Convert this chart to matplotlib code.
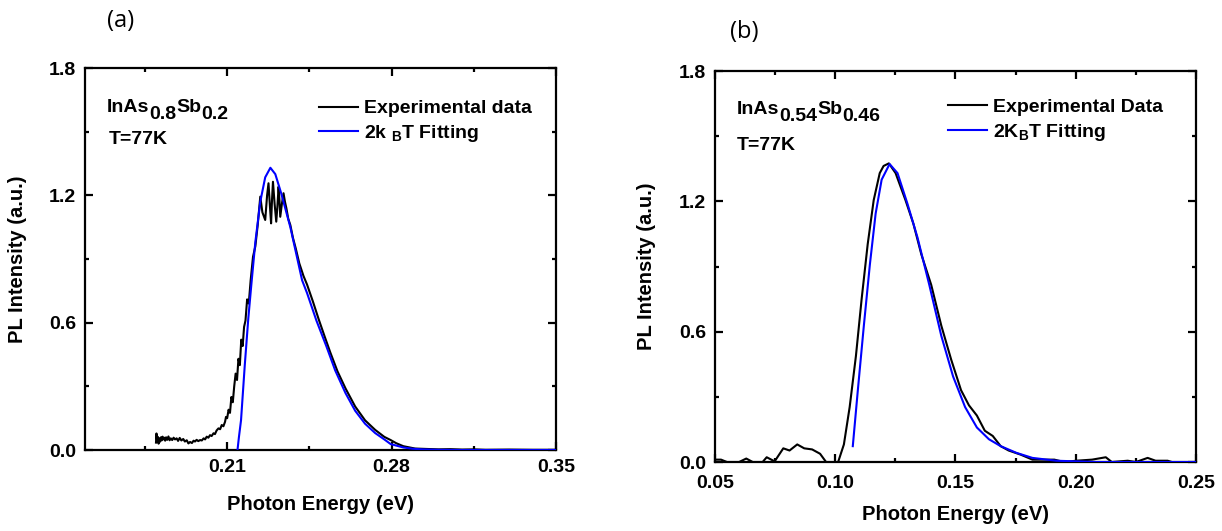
import matplotlib
matplotlib.use("Agg")
import matplotlib.pyplot as plt
from matplotlib.ticker import MultipleLocator

plt.rcParams['font.family'] = ['Liberation Sans', 'DejaVu Sans']
plt.rcParams['font.weight'] = 'bold'
plt.rcParams['mathtext.fontset'] = 'custom'
plt.rcParams['mathtext.rm'] = 'Liberation Sans:bold'
plt.rcParams['mathtext.bf'] = 'Liberation Sans:bold'
plt.rcParams['mathtext.it'] = 'Liberation Sans:bold'

# panel (a) InAs0.8Sb0.2
exp_a_x = [0.1797, 0.1799, 0.1802, 0.1805, 0.1808, 0.1811, 0.1814, 0.1818, 0.1821, 0.1825,
           0.1828, 0.1832, 0.1836, 0.1840, 0.1845, 0.1850, 0.1855, 0.1860, 0.1866, 0.1872,
           0.1878, 0.1885, 0.1891, 0.1898, 0.1905, 0.1913, 0.1920, 0.1928, 0.1935, 0.1942,
           0.1950, 0.1957, 0.1963, 0.1970, 0.1977, 0.1985, 0.1992, 0.2000, 0.2006, 0.2013,
           0.2020, 0.2027, 0.2034, 0.2042, 0.2048, 0.2055, 0.2063, 0.2070, 0.2077, 0.2084,
           0.2091, 0.2095, 0.2100, 0.2106, 0.2112, 0.2118, 0.2124, 0.2130, 0.2136, 0.2142,
           0.2148, 0.2154, 0.2160, 0.2166, 0.2172, 0.2178, 0.2185, 0.2192, 0.2200, 0.2210,
           0.2220, 0.2230, 0.2241, 0.2250, 0.2262, 0.2270, 0.2276, 0.2282, 0.2287, 0.2291,
           0.2295, 0.2302, 0.2309, 0.2314, 0.2319, 0.2323, 0.2326, 0.2333, 0.2340, 0.2346,
           0.2352, 0.2360, 0.2369, 0.2380, 0.2392, 0.2407, 0.2425, 0.2440, 0.2465, 0.2490,
           0.2515, 0.2539, 0.2570, 0.2604, 0.2645, 0.2687, 0.2730, 0.2769, 0.2796, 0.2820,
           0.2850, 0.2900, 0.2950, 0.3000, 0.3050, 0.3100, 0.3150, 0.3200, 0.3300, 0.3400,
           0.3500]
exp_a_y = [0.035, 0.078, 0.040, 0.062, 0.030, 0.055, 0.039, 0.060, 0.045, 0.063,
           0.050, 0.058, 0.044, 0.060, 0.048, 0.064, 0.046, 0.055, 0.047, 0.058,
           0.050, 0.055, 0.043, 0.057, 0.045, 0.052, 0.040, 0.046, 0.031, 0.038,
           0.033, 0.044, 0.040, 0.048, 0.042, 0.047, 0.045, 0.055, 0.050, 0.063,
           0.058, 0.070, 0.066, 0.079, 0.075, 0.092, 0.102, 0.098, 0.118, 0.112,
           0.133, 0.156, 0.150, 0.190, 0.175, 0.250, 0.225, 0.300, 0.360, 0.330,
           0.430, 0.400, 0.520, 0.490, 0.580, 0.610, 0.710, 0.690, 0.800, 0.910,
           0.960, 1.060, 1.194, 1.120, 1.084, 1.200, 1.257, 1.150, 1.068, 1.180,
           1.264, 1.160, 1.076, 1.150, 1.241, 1.170, 1.099, 1.160, 1.210, 1.170,
           1.140, 1.090, 1.060, 1.000, 0.950, 0.880, 0.820, 0.780, 0.700, 0.615,
           0.535, 0.460, 0.370, 0.290, 0.205, 0.140, 0.095, 0.062, 0.047, 0.032,
           0.018, 0.007, 0.005, 0.003, 0.004, 0.002, 0.003, 0.001, 0.002, 0.001,
           0.001]
fit_a_x = [0.2144, 0.2150, 0.2159, 0.2175, 0.2190, 0.2203, 0.2220, 0.2241, 0.2262, 0.2284,
           0.2305, 0.2330, 0.2369, 0.2419, 0.2440, 0.2480, 0.2522, 0.2560, 0.2604, 0.2645,
           0.2687, 0.2730, 0.2769, 0.2796, 0.2850, 0.2890, 0.2933, 0.3000, 0.3100, 0.3200,
           0.3300, 0.3400, 0.3500]
fit_a_y = [0.000, 0.060, 0.140, 0.400, 0.620, 0.780, 0.980, 1.170, 1.285, 1.330,
           1.300, 1.210, 1.050, 0.800, 0.740, 0.610, 0.490, 0.375, 0.268, 0.185,
           0.124, 0.080, 0.050, 0.028, 0.012, 0.006, 0.003, 0.001, 0.000, 0.000,
           0.000, 0.000, 0.000]

# panel (b) InAs0.54Sb0.46
exp_b_x = [0.0500, 0.0525, 0.0550, 0.0600, 0.0630, 0.0657, 0.0698, 0.0715, 0.0748, 0.0784,
           0.0810, 0.0842, 0.0871, 0.0904, 0.0937, 0.0962, 0.1012, 0.1036, 0.1060, 0.1086,
           0.1110, 0.1135, 0.1160, 0.1185, 0.1201, 0.1223, 0.1251, 0.1292, 0.1325, 0.1358,
           0.1399, 0.1441, 0.1482, 0.1523, 0.1556, 0.1589, 0.1622, 0.1655, 0.1688, 0.1721,
           0.1771, 0.1820, 0.1911, 0.1952, 0.2002, 0.2068, 0.2125, 0.2150, 0.2216, 0.2250,
           0.2299, 0.2332, 0.2382, 0.2400]
exp_b_y = [0.011, 0.011, 0.000, 0.000, 0.016, 0.000, 0.000, 0.022, 0.003, 0.063,
           0.053, 0.081, 0.063, 0.058, 0.038, 0.000, 0.000, 0.081, 0.253, 0.488,
           0.753, 1.003, 1.206, 1.330, 1.363, 1.375, 1.330, 1.206, 1.097, 0.956,
           0.816, 0.628, 0.472, 0.331, 0.261, 0.214, 0.144, 0.120, 0.073, 0.053,
           0.034, 0.011, 0.011, 0.000, 0.006, 0.011, 0.022, 0.000, 0.006, 0.000,
           0.019, 0.006, 0.006, 0.000]
fit_b_x = [0.1073, 0.1094, 0.1119, 0.1144, 0.1168, 0.1193, 0.1226, 0.1259, 0.1300, 0.1342,
           0.1391, 0.1441, 0.1490, 0.1540, 0.1589, 0.1639, 0.1688, 0.1754, 0.1820, 0.1919,
           0.2084, 0.2500]
fit_b_y = [0.073, 0.331, 0.628, 0.909, 1.144, 1.300, 1.372, 1.330, 1.190, 1.034,
           0.816, 0.581, 0.394, 0.253, 0.159, 0.105, 0.073, 0.042, 0.019, 0.006,
           0.000, 0.000]

FS = 14

fig = plt.figure(figsize=(12.22, 5.31), dpi=100)
ax1 = fig.add_axes([0.0696, 0.1525, 0.3854, 0.7194])
ax2 = fig.add_axes([0.5851, 0.1299, 0.3936, 0.7363])


def style(ax, xlim, xmin):
    ax.set_xlim(*xlim)
    ax.set_ylim(0, 1.8)
    ax.xaxis.set_minor_locator(MultipleLocator(xmin))
    ax.yaxis.set_minor_locator(MultipleLocator(0.3))
    ax.set_yticks([0.0, 0.6, 1.2, 1.8])
    ax.set_yticklabels(['0.0', '0.6', '1.2', '1.8'])
    ax.tick_params(which='both', direction='in', top=True, right=True, width=1.6,
                   labelsize=FS, pad=6.5)
    ax.tick_params(which='major', length=6)
    ax.tick_params(which='minor', length=3)
    for s in ax.spines.values():
        s.set_linewidth(1.6)
    ax.set_xlabel('Photon Energy (eV)', fontsize=14.5, fontweight='bold')
    ax.set_ylabel('PL Intensity (a.u.)', fontsize=14.5, fontweight='bold')


def formula(ax, x, y, parts):
    # chemical formula with full-size, lowered subscripts
    t = ax.text(x, y, parts[0], transform=ax.transAxes, fontsize=FS, va='bottom')
    for i, p in enumerate(parts[1:], 1):
        dy = -5 if i % 2 == 1 else 5
        t = ax.annotate(p, xy=(1, 0), xycoords=t, xytext=(0, dy), textcoords='offset points',
                        fontsize=FS, va='bottom')


ax1.plot(exp_a_x, exp_a_y, color='black', lw=1.5, zorder=3, label='Experimental data')
ax1.plot(fit_a_x, fit_a_y, color='#0000ff', lw=1.5, zorder=3, label=r'2k $_{\mathbf{B}}$T Fitting')
style(ax1, (0.1495, 0.35), 0.035)
ax1.set_xticks([0.21, 0.28, 0.35])
ax1.set_xticklabels(['0.21', '0.28', '0.35'])
ax1.xaxis.set_label_coords(0.5, -0.118)
ax1.xaxis.label.set_va('top')
ax1.yaxis.set_label_coords(-0.123, 0.5)
formula(ax1, 0.047, 0.875, ['InAs', '0.8', 'Sb', '0.2'])
ax1.text(0.051, 0.814, 'T=77K', transform=ax1.transAxes, fontsize=FS, va='center')
ax1.legend(loc='upper left', bbox_to_anchor=(0.497, 0.917), frameon=False, borderpad=0,
           borderaxespad=0, prop={'size': FS, 'weight': 'bold'}, handlelength=2.0,
           handletextpad=0.3, labelspacing=0.3)

ax2.plot(exp_b_x, exp_b_y, color='black', lw=1.5, zorder=3, label='Experimental Data')
ax2.plot(fit_b_x, fit_b_y, color='#0000ff', lw=1.5, zorder=3, label=r'2K$_{\mathbf{B}}$T Fitting')
style(ax2, (0.05, 0.25), 0.025)
ax2.set_xticks([0.05, 0.10, 0.15, 0.20, 0.25])
ax2.set_xticklabels(['0.05', '0.10', '0.15', '0.20', '0.25'])
ax2.tick_params(axis='x', which='major', pad=9)
ax2.xaxis.set_label_coords(0.5, -0.11)
ax2.xaxis.label.set_va('top')
ax2.yaxis.set_label_coords(-0.1227, 0.5)
formula(ax2, 0.046, 0.88, ['InAs', '0.54', 'Sb', '0.46'])
ax2.text(0.046, 0.81, 'T=77K', transform=ax2.transAxes, fontsize=FS, va='center')
ax2.legend(loc='upper left', bbox_to_anchor=(0.484, 0.93), frameon=False, borderpad=0,
           borderaxespad=0, prop={'size': FS, 'weight': 'bold'}, handlelength=2.0,
           handletextpad=0.3, labelspacing=0.3)

fig.text(0.099, 0.961, '(a)', fontsize=17, fontweight='normal', family=['Open Sans', 'DejaVu Sans'],
         va='center', ha='center')
fig.text(0.609, 0.94, '(b)', fontsize=17, fontweight='normal', family=['Open Sans', 'DejaVu Sans'],
         va='center', ha='center')

fig.savefig('out.png', dpi=100)
